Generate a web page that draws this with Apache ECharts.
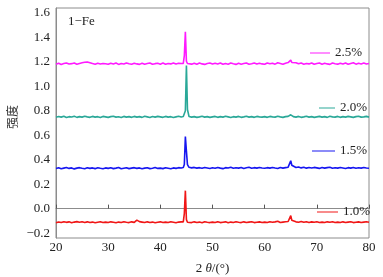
<!DOCTYPE html>
<html><head><meta charset="utf-8">
<script src="https://cdn.jsdelivr.net/npm/echarts@6/dist/echarts.min.js"></script>
<style>html,body{margin:0;padding:0;background:#fff}#c{width:383px;height:277px}</style>
</head><body><div id="c"></div>
<script>
const seriesNames = ['2.5%', '2.0%', '1.5%', '1.0%'];
const xTicks = [20, 30, 40, 50, 60, 70, 80];
const yTicks = [-0.2, 0.0, 0.2, 0.4, 0.6, 0.8, 1.0, 1.2, 1.4, 1.6];
const twoTheta = [
 20,20.5,21,21.5,22,22.5,23,23.5,24,24.5,
 25,25.5,26,26.5,27,27.5,28,28.5,29,29.5,
 30,30.5,31,31.5,32,32.5,33,33.5,34,34.5,
 35,35.5,36,36.5,37,37.5,38,38.5,39,39.5,
 40,40.5,41,41.5,42,42.5,43,43.5,44,
 44.4,44.6,44.8,45.0,45.2,
 45.5,46,46.5,47,47.5,48,48.5,49,49.5,
 50,50.5,51,51.5,52,52.5,53,53.5,54,54.5,
 55,55.5,56,56.5,57,57.5,58,58.5,59,59.5,
 60,60.5,61,61.5,62,62.5,63,63.5,64,64.5,
 64.8,65.0,65.2,
 65.5,66,66.5,67,67.5,68,68.5,69,69.5,
 70,70.5,71,71.5,72,72.5,73,73.5,74,74.5,
 75,75.5,76,76.5,77,77.5,78,78.5,79,79.5,80
];
const fe25 = [
 1.181,1.188,1.179,1.186,1.191,1.182,1.185,1.190,1.180,1.187,
 1.192,1.196,1.199,1.193,1.186,1.180,1.188,1.182,1.187,1.184,
 1.180,1.189,1.183,1.190,1.179,1.186,1.182,1.191,1.184,1.180,
 1.188,1.183,1.179,1.189,1.181,1.186,1.191,1.180,1.185,1.188,
 1.181,1.190,1.180,1.187,1.183,1.191,1.182,1.188,1.186,
 1.187,1.250,1.445,1.205,1.186,
 1.184,1.181,1.189,1.180,1.190,1.183,1.179,1.187,1.190,
 1.182,1.188,1.183,1.191,1.180,1.186,1.181,1.190,1.184,1.179,
 1.188,1.181,1.186,1.191,1.180,1.184,1.190,1.182,1.188,1.183,
 1.180,1.190,1.184,1.188,1.181,1.192,1.186,1.180,1.189,1.194,
 1.200,1.214,1.195,
 1.188,1.193,1.184,1.190,1.181,1.187,1.183,1.191,1.180,
 1.186,1.191,1.181,1.188,1.183,1.179,1.190,1.185,1.181,1.189,
 1.183,1.190,1.180,1.187,1.192,1.181,1.188,1.183,1.190,1.182,1.186
];
const fe20 = [
 0.747,0.753,0.748,0.755,0.745,0.752,0.749,0.756,0.746,0.752,
 0.748,0.755,0.750,0.746,0.754,0.748,0.752,0.745,0.754,0.750,
 0.746,0.752,0.755,0.748,0.751,0.745,0.754,0.748,0.752,0.746,
 0.754,0.748,0.752,0.746,0.755,0.750,0.745,0.753,0.748,0.754,
 0.750,0.746,0.754,0.748,0.752,0.745,0.750,0.755,0.749,
 0.753,0.758,0.800,1.170,0.810,
 0.753,0.748,0.752,0.746,0.750,0.755,0.748,0.752,0.746,
 0.750,0.754,0.746,0.752,0.748,0.755,0.750,0.745,0.752,0.748,
 0.754,0.746,0.750,0.755,0.748,0.752,0.746,0.754,0.750,0.748,
 0.752,0.746,0.754,0.750,0.748,0.755,0.750,0.746,0.752,0.754,
 0.759,0.767,0.757,
 0.752,0.748,0.754,0.746,0.750,0.755,0.748,0.752,0.746,
 0.750,0.754,0.748,0.752,0.746,0.755,0.750,0.748,0.754,0.746,
 0.752,0.748,0.754,0.750,0.746,0.752,0.755,0.748,0.750,0.754,0.748
];
const fe15 = [
 0.328,0.334,0.326,0.331,0.336,0.329,0.333,0.325,0.331,0.335,
 0.330,0.326,0.334,0.329,0.333,0.327,0.335,0.330,0.326,0.333,
 0.329,0.334,0.327,0.331,0.336,0.326,0.330,0.334,0.327,0.331,
 0.335,0.329,0.333,0.326,0.331,0.334,0.327,0.330,0.336,0.329,
 0.331,0.327,0.334,0.330,0.326,0.333,0.329,0.335,0.332,
 0.336,0.360,0.590,0.470,0.360,
 0.338,0.333,0.337,0.331,0.335,0.330,0.336,0.332,0.328,
 0.334,0.330,0.337,0.331,0.327,0.335,0.332,0.338,0.330,0.334,
 0.331,0.336,0.328,0.334,0.338,0.330,0.335,0.331,0.337,0.332,
 0.330,0.335,0.331,0.337,0.332,0.328,0.336,0.331,0.335,0.339,
 0.350,0.392,0.355,
 0.342,0.336,0.340,0.333,0.338,0.331,0.336,0.332,0.337,
 0.333,0.329,0.336,0.331,0.335,0.338,0.330,0.334,0.331,0.336,
 0.332,0.328,0.335,0.331,0.337,0.330,0.334,0.331,0.336,0.332,0.330
];
const fe10 = [
 -0.116,-0.109,-0.114,-0.107,-0.112,-0.108,-0.115,-0.110,-0.106,-0.111,
 -0.107,-0.113,-0.108,-0.114,-0.110,-0.115,-0.111,-0.107,-0.113,-0.110,
 -0.114,-0.108,-0.111,-0.115,-0.110,-0.113,-0.107,-0.111,-0.114,-0.108,
 -0.112,-0.094,-0.106,-0.110,-0.114,-0.108,-0.113,-0.110,-0.115,-0.111,
 -0.108,-0.114,-0.110,-0.113,-0.107,-0.111,-0.115,-0.110,-0.108,
 -0.108,-0.040,0.147,-0.090,-0.111,
 -0.111,-0.114,-0.108,-0.113,-0.110,-0.115,-0.107,-0.111,-0.114,
 -0.110,-0.113,-0.107,-0.114,-0.111,-0.108,-0.115,-0.110,-0.113,-0.107,
 -0.111,-0.114,-0.108,-0.113,-0.110,-0.107,-0.114,-0.111,-0.108,-0.113,
 -0.110,-0.114,-0.107,-0.111,-0.108,-0.103,-0.113,-0.110,-0.107,-0.105,
 -0.094,-0.057,-0.095,
 -0.104,-0.108,-0.111,-0.105,-0.112,-0.107,-0.113,-0.108,-0.111,
 -0.107,-0.113,-0.110,-0.114,-0.108,-0.111,-0.107,-0.113,-0.110,-0.114,
 -0.108,-0.113,-0.110,-0.107,-0.114,-0.111,-0.108,-0.113,-0.110,-0.107,-0.111
];
const allValues = [fe25, fe20, fe15, fe10];
const colors = ['#ff1aff', '#2aa898', '#1616f0', '#f01616'];

const serif = '"Liberation Serif", "DejaVu Serif", serif';
const legendPos = [
  {left: 310, top: 46, w: 20},
  {left: 319, top: 101, w: 16},
  {left: 312, top: 144, w: 23},
  {left: 317, top: 205, w: 21}
];

const chart = echarts.init(document.getElementById('c'), null, {renderer: 'canvas'});
chart.setOption({
  animation: false,
  backgroundColor: '#fff',
  title: {
    text: '1\u2212Fe', left: 68, top: 15, padding: 0,
    textStyle: {fontFamily: serif, fontSize: 13, fontWeight: 'normal', color: '#222'}
  },
  grid: {left: 56, right: 14, top: 8, bottom: 39, containLabel: false, outerBoundsMode: 'none',
    show: true, borderColor: '#8c8c8c', borderWidth: 1},
  legend: seriesNames.map((n, i) => ({
    data: [{name: n, icon: 'rect', itemStyle: {color: colors[i]}}],
    left: legendPos[i].left, top: legendPos[i].top, padding: 0,
    itemWidth: legendPos[i].w, itemHeight: 1, selectedMode: false,
    textStyle: {fontFamily: serif, fontSize: 13, color: '#222', lineHeight: 14}
  })),
  xAxis: {
    type: 'value', min: xTicks[0], max: xTicks[xTicks.length - 1], interval: 10,
    name: '2 {i|\u03b8}/(\u00b0)', nameLocation: 'middle', nameGap: 24,
    nameTextStyle: {fontFamily: serif, fontSize: 13, color: '#222',
      rich: {i: {fontFamily: serif, fontSize: 13, fontStyle: 'italic', color: '#222'}}},
    axisLine: {show: true, lineStyle: {color: '#8c8c8c'}},
    axisTick: {show: true, inside: true, length: 4, lineStyle: {color: '#555'}},
    axisLabel: {margin: 3, fontFamily: serif, fontSize: 13, color: '#222'},
    splitLine: {show: false}
  },
  yAxis: {
    type: 'value', min: -0.24, max: 1.64,
    axisLine: {show: true, lineStyle: {color: '#8c8c8c'}},
    axisTick: {show: false},
    axisLabel: {
      customValues: yTicks, margin: 6, fontFamily: serif, fontSize: 13, color: '#222',
      formatter: v => v.toFixed(1).replace('-', '\u2212')
    },
    splitLine: {show: false}
  },
  graphic: [{
    type: 'text', x: 12.5, y: 117, rotation: Math.PI / 2,
    style: {text: '强度', font: '12px "Noto Sans CJK SC"', fill: '#333', align: 'center', verticalAlign: 'middle'}
  }],
  series: seriesNames.map((n, i) => ({
    name: n, type: 'line', symbol: 'none', showSymbol: false,
    data: twoTheta.map((x, k) => [x, allValues[i][k]]),
    lineStyle: {color: colors[i], width: 1.6},
    itemStyle: {color: colors[i]}
  }))
});
</script>
</body></html>
